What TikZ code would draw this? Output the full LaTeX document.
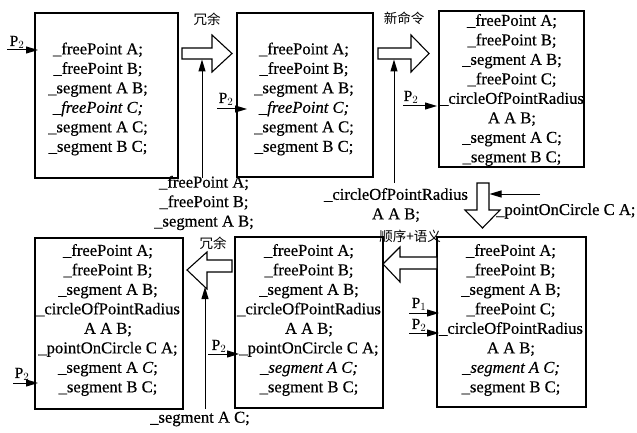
\documentclass[tikz,border=0pt]{standalone}
\usepackage{fontspec}
\setmainfont{Liberation Serif}[FakeBold=0.4]
\newfontfamily\cjk{Noto Sans CJK SC}
\usetikzlibrary{arrows.meta}
\begin{document}
\begin{tikzpicture}[x=1pt,y=-1pt,
  box/.style={draw,line width=1.1pt,inner sep=0pt},
  code/.style={font=\fontsize{16.6}{19.5}\selectfont,align=center,inner sep=0pt},
  cn/.style={font=\cjk\fontsize{13.5}{16}\selectfont,inner sep=0pt},
  plab/.style={font=\fontsize{15.5}{16}\selectfont,inner sep=0pt},
  thin/.style={line width=1pt,-{Triangle[length=12pt,width=7pt]}},
  blk/.style={draw,line width=1.1pt,fill=white,line join=miter}
]
\useasboundingbox (0,0) rectangle (637,433);

% boxes
\node[box,minimum width=143pt,minimum height=165pt] (b1) at (106.5,95.5) {};
\node[box,minimum width=136pt,minimum height=164pt] (b2) at (305,95) {};
\node[box,minimum width=145pt,minimum height=156pt] (b3) at (511.5,89) {};
\node[box,minimum width=149pt,minimum height=170pt] (b4) at (511.5,322) {};
\node[box,minimum width=148pt,minimum height=171pt] (b5) at (309,322.5) {};
\node[box,minimum width=148pt,minimum height=171pt] (b6) at (109,323.5) {};

% box texts
\node[code] (t1) at (98,99) {\_freePoint A;\\ \_freePoint B;\\ \_segment A B;\\ \textit{\_freePoint C;}\\ \_segment A C;\\ \_segment B C;};
\node[code] (t2) at (304,99) {\_freePoint A;\\ \_freePoint B;\\ \_segment A B;\\ \textit{\_freePoint C;}\\ \_segment A C;\\ \_segment B C;};
\node[code] (t3) at (512,90) {\_freePoint A;\\ \_freePoint B;\\ \_segment A B;\\ \_freePoint C;\\ \_circleOfPointRadius\\ A A B;\\ \_segment A C;\\ \_segment B C;};
\node[code] (t4) at (511,320) {\_freePoint A;\\ \_freePoint B;\\ \_segment A B;\\ \_freePoint C;\\ \_circleOfPointRadius\\ A A B;\\ \textit{\_segment A C;}\\ \_segment B C;};
\node[code] (t5) at (309,320) {\_freePoint A;\\ \_freePoint B;\\ \_segment A B;\\ \_circleOfPointRadius\\ A A B;\\ \_pointOnCircle C A;\\ \textit{\_segment A C;}\\ \_segment B C;};
\node[code] (t6) at (108,320) {\_freePoint A;\\ \_freePoint B;\\ \_segment A B;\\ \_circleOfPointRadius\\ A A B;\\ \_pointOnCircle C A;\\ \_segment A \textit{C};\\ \_segment B C;};

% block arrows
\draw[blk] (182,48) -- (212,48) -- (212,35) -- (232,53.5) -- (212,72) -- (212,59) -- (182,59) -- cycle;
\draw[blk] (378,48) -- (411,48) -- (411,35) -- (429,53.5) -- (411,72) -- (411,59) -- (378,59) -- cycle;
\draw[blk] (477,183) -- (489,183) -- (489,210) -- (500,210) -- (482.5,228) -- (465,210) -- (477,210) -- cycle;
\draw[blk] (437,257) -- (400,257) -- (400,247) -- (383,264) -- (400,282) -- (400,269) -- (437,269) -- cycle;
\draw[blk] (232,260) -- (207,260) -- (207,252) -- (187,270) -- (207,289) -- (207,272) -- (232,272) -- cycle;

% labels on block arrows
\node[cn] (c1) at (207,19) {冗余};
\node[cn] (c2) at (404,18) {新命令};
\node[cn] (c3) at (410,236) {顺序+语义};
\node[cn] (c4) at (213,243) {冗余};

% side labels
\node[code] (l1) at (204,203) {\_freePoint A;\\ \_freePoint B;\\ \_segment A B;};
\node[code] (l2) at (396,205) {\_circleOfPointRadius\\ A A B;};
\node[code,anchor=west] (l3) at (496,211) {\_pointOnCircle C A;};
\node[code] (l4) at (200,419) {\_segment A C;};

% thin arrows from labels
\coordinate (v1) at (202,59.5);
\coordinate (v2) at (394,59.5);
\coordinate (v4) at (205,287);
\coordinate (h3s) at (540,194);
\coordinate (h3e) at (489.5,194);
\draw[thin] (202,178) -- (v1);
\draw[thin] (394,183) -- (v2);
\draw[thin] (205,409) -- (v4);
\draw[thin] (h3s) -- (h3e);

% P arrows
\node[plab] (p1) at (17,42) {P$_2$};
\draw[thin] (7,50) -- (38,50);
\node[plab] (p2) at (226,99) {P$_2$};
\draw[thin] (217,109) -- (247,109);
\node[plab] (p3) at (411,97) {P$_2$};
\draw[thin] (403,106) -- (437,106);
\node[plab] (p4) at (419,304) {P$_1$};
\draw[thin] (409,313) -- (439,313);
\node[plab] (p5) at (419,325) {P$_2$};
\draw[thin] (409,333) -- (439,333);
\node[plab] (p6) at (219,346) {P$_2$};
\draw[thin] (208,354) -- (239,354);
\node[plab] (p7) at (22,374) {P$_2$};
\draw[thin] (13,383) -- (38,383);
\end{tikzpicture}
\end{document}
